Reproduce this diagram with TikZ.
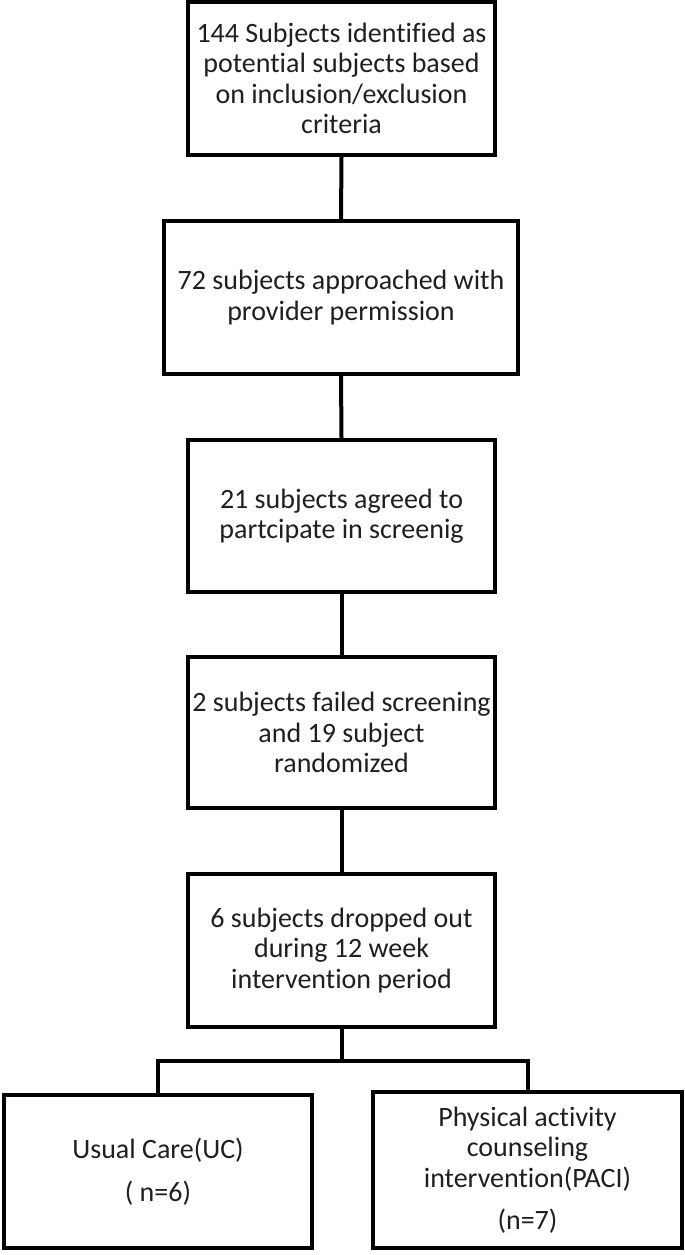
\documentclass[tikz,border=0pt]{standalone}
\usepackage{fontspec}
\setmainfont{Carlito}[Ligatures=NoCommon]
\begin{document}
\begin{tikzpicture}[x=1pt,y=1pt,
  box/.style={draw=black, line width=4pt, fill=white, align=center, inner sep=0pt,
    font=\fontsize{28}{30.5}\selectfont, text=black!88},
  conn/.style={draw=black, line width=4pt}]
\useasboundingbox (0,0) rectangle (685,1255);
\node[box, minimum width=307, minimum height=153] (b1) at (341.5,1176.5)
  {144 Subjects identified as\\potential subjects based\\on inclusion/exclusion\\criteria};
\node[box, minimum width=354, minimum height=153] (b2) at (341,957.5)
  {72 subjects approached with\\provider permission};
\node[box, minimum width=307, minimum height=152] (b3) at (341.5,739)
  {21 subjects agreed to\\partcipate in screenig};
\node[box, minimum width=307, minimum height=151] (b4) at (341.5,522.5)
  {2 subjects failed screening\\and 19 subject\\randomized};
\node[box, minimum width=307, minimum height=153] (b5) at (341.5,304.5)
  {6 subjects dropped out\\during 12 week\\intervention period};
\node[box, minimum width=308, minimum height=153] (uc) at (158,83.5)
  {Usual Care(UC)\\[12pt]( n=6)};
\node[box, minimum width=309, minimum height=156] (pa) at (527.5,85)
  {Physical activity\\counseling\\intervention(PACI)\\[12pt](n=7)};
\coordinate (split) at (341.5,194);
\coordinate (sl) at (uc.north |- split);
\coordinate (sr) at (pa.north |- split);
\draw[conn] (b1.south) -- (b2.north);
\draw[conn] (b2.south) -- (b3.north);
\draw[conn] (b3.south) -- (b4.north);
\draw[conn] (b4.south) -- (b5.north);
\draw[conn] (b5.south) -- (split);
\draw[conn, line join=miter] (uc.north) -- (sl) -- (sr) -- (pa.north);
\end{tikzpicture}
\end{document}
